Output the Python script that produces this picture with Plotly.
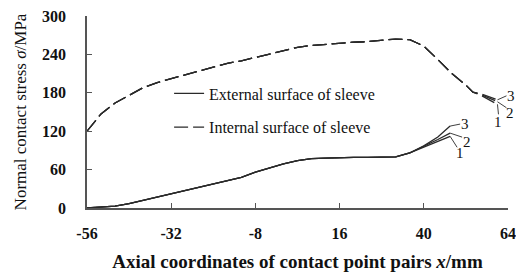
import plotly.graph_objects as go

# External surface of sleeve (solid); three variants diverge near the end
ext_x = [-56, -52, -48, -44, -40, -36, -32, -28, -24, -20, -16, -12, -8, -4, 0, 4, 8, 12, 16, 20, 24, 28, 32, 36]
ext_y = [0, 1, 3, 7, 12, 18, 23, 28, 33, 37, 42, 48, 56, 63, 69, 74, 77, 78, 79, 79, 79, 79, 80, 86]
ext_tail_x = [40, 44, 47.5]
ext1_tail = [95, 104, 112]
ext2_tail = [96, 107, 117]
ext3_tail = [97, 111, 128]

# Internal surface of sleeve (dashed)
int_x = [-56, -52, -48, -44, -40, -36, -32, -28, -24, -20, -16, -12, -8, -4, 0, 4, 8, 12, 16, 20, 24, 28, 32, 36, 40, 44, 48, 52, 54]
int_y = [120, 147, 164, 176, 188, 196, 202, 208, 214, 220, 226, 230, 235, 240, 246, 251, 254, 256, 258, 259, 260, 262, 264, 263, 253, 232, 210, 192, 181]
int_tail_x = [56, 61]
int1_tail = [177, 162]
int2_tail = [178, 166]
int3_tail = [179, 169]

curve_labels = ["1", "2", "3"]
x_ticks = [-56, -32, -8, 16, 40, 64]
y_ticks = [0, 60, 120, 180, 240, 300]

col = "#2a2a2a"
serif = "Liberation Serif"

fig = go.Figure()
for i, tail in enumerate([ext1_tail, ext2_tail, ext3_tail]):
    fig.add_trace(go.Scatter(x=ext_x + ext_tail_x, y=ext_y + tail, mode="lines",
                             line=dict(color=col, width=1.3),
                             name="External surface of sleeve", showlegend=(i == 0),
                             legendgroup="ext"))
for i, tail in enumerate([int1_tail, int2_tail, int3_tail]):
    fig.add_trace(go.Scatter(x=int_x + int_tail_x, y=int_y + tail, mode="lines",
                             line=dict(color=col, width=1.3, dash="14px,5px"),
                             name="Internal surface of sleeve", showlegend=(i == 0),
                             legendgroup="int"))

# curve labels 1,2,3 with short leader lines (pixel offsets from each curve end)
ext_ends = [(ext_tail_x[-1], t[-1]) for t in (ext1_tail, ext2_tail, ext3_tail)]
int_ends = [(int_tail_x[-1], t[-1]) for t in (int1_tail, int2_tail, int3_tail)]
# (leader dx, leader dy, label dx, label dy) in px, dy downward
ext_off = [(7, 11, 10, 17), (12, 4, 17, 9), (10, -2, 15, -2)]
int_off = [(1, 10, 1, 18), (9, 6, 13, 11), (9, -4, 14, -4)]

shapes, ann = [], []
for ends, offs in ((ext_ends, ext_off), (int_ends, int_off)):
    for lab, (xe, ye), (ldx, ldy, tdx, tdy) in zip(curve_labels, ends, offs):
        shapes.append(dict(type="line", xref="x", yref="y", xsizemode="pixel", ysizemode="pixel",
                           xanchor=xe, yanchor=ye, x0=0, y0=0, x1=ldx, y1=-ldy,
                           line=dict(color=col, width=0.9)))
        ann.append(dict(x=xe, y=ye, xshift=tdx, yshift=-tdy, text=lab, showarrow=False,
                        xanchor="center", yanchor="middle",
                        font=dict(family=serif, size=15, color="#111")))

fig.update_layout(
    width=516, height=273,
    margin=dict(l=87, r=8, t=16, b=65, autoexpand=False),
    plot_bgcolor="white", paper_bgcolor="white",
    font=dict(family=serif, color="#111", size=15),
    showlegend=True,
    legend=dict(x=0.195, y=0.685, xanchor="left", yanchor="top", bgcolor="rgba(0,0,0,0)",
                font=dict(family=serif, size=16), tracegroupgap=10),
    annotations=ann, shapes=shapes,
    xaxis=dict(range=[-56, 64], tickvals=x_ticks, ticktext=[f"<b>{v}</b>" for v in x_ticks],
               automargin=False,
               showgrid=False, zeroline=False, showline=True, linecolor="#555", linewidth=1.5,
               ticks="inside", ticklen=5, tickcolor="#555", tickwidth=1, ticklabelstandoff=10,
               ticklabeloverflow="allow",
               tickfont=dict(family=serif, size=16, color="#111"),
               title=dict(text="<b>Axial coordinates of contact point pairs <i>x</i>/mm</b>",
                          font=dict(family=serif, size=19), standoff=14)),
    yaxis=dict(range=[0, 300], tickvals=y_ticks, ticktext=[f"<b>{v}</b>" for v in y_ticks],
               automargin=False,
               showgrid=False, zeroline=False, showline=True, linecolor="#555", linewidth=1.5,
               ticks="inside", ticklen=5, tickcolor="#555", tickwidth=1, ticklabelstandoff=16,
               ticklabeloverflow="allow",
               tickfont=dict(family=serif, size=16, color="#111"),
               title=dict(text="Normal contact stress <i>σ</i>/MPa",
                          font=dict(family=serif, size=17), standoff=11)),
)
fig.write_html("out.html", config={"displayModeBar": False},
               post_script="document.body.style.margin='0';document.body.style.overflow='hidden';")
